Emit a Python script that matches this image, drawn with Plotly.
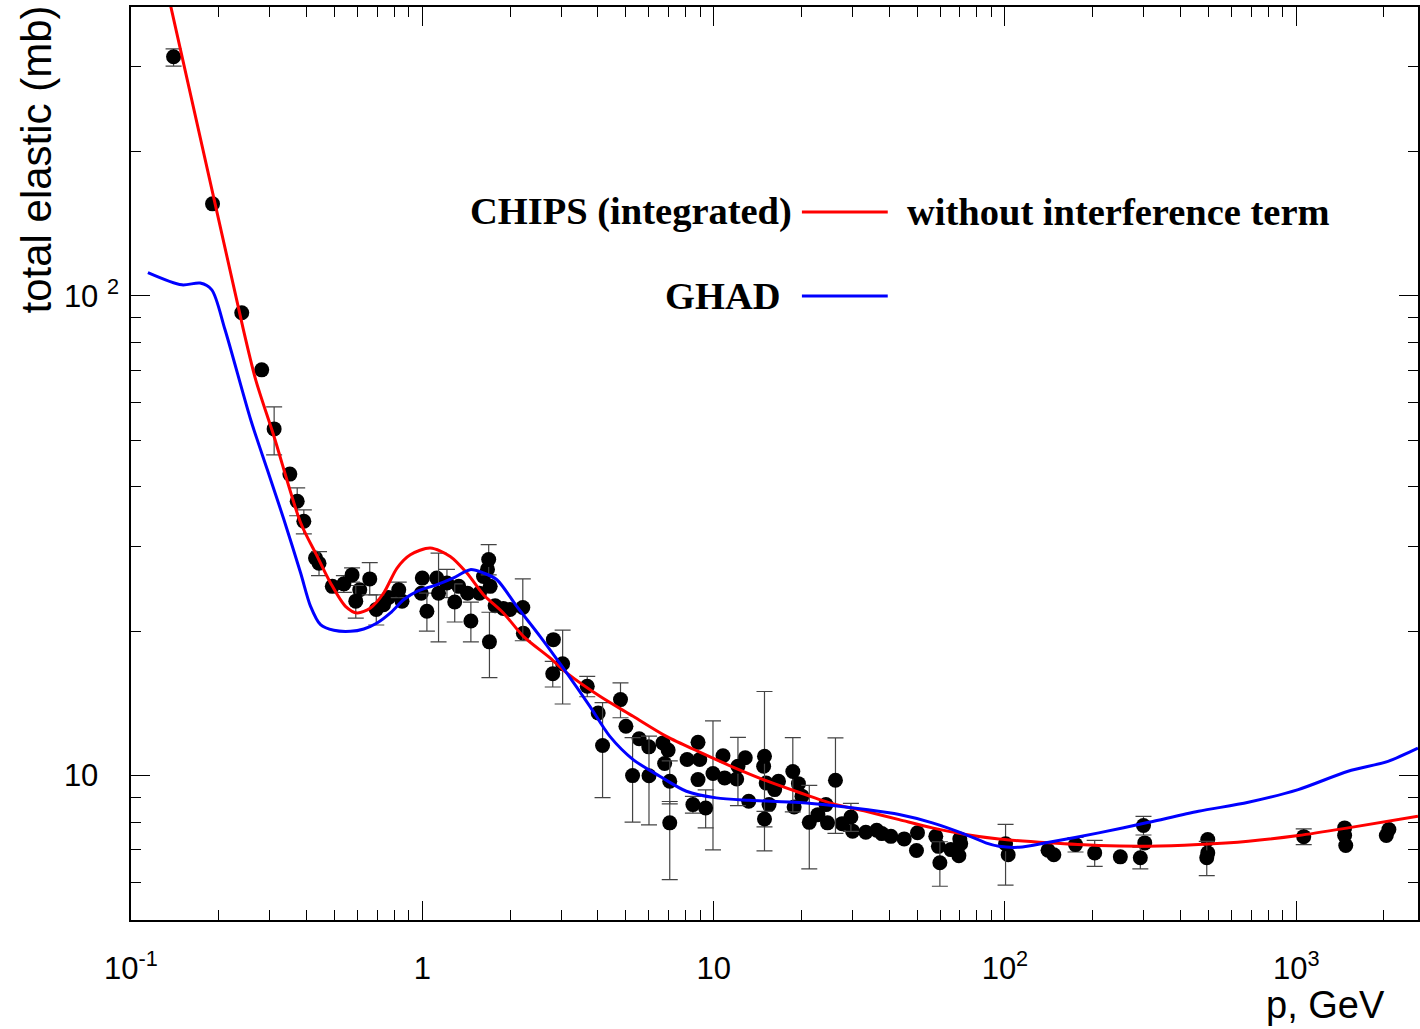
import plotly.graph_objects as go

# ---- experimental data: momentum (GeV), total elastic cross section (mb), errors ----
p_data = [0.140, 0.1905, 0.240, 0.281, 0.310, 0.351, 0.372, 0.392, 0.430, 0.442,
          0.491, 0.538, 0.574, 0.591, 0.610, 0.660, 0.695, 0.736, 0.766, 0.830,
          0.852, 0.992, 1.00, 1.037, 1.121, 1.137, 1.215, 1.292, 1.334, 1.43,
          1.468, 1.571, 1.622, 1.674, 1.69, 1.70, 1.71, 1.778, 1.897, 2.0,
          2.213, 2.223, 2.804, 2.818, 3.032, 3.683, 4.015, 4.157, 4.79, 5.0,
          5.27, 5.55, 5.99, 6.0, 6.70, 6.79, 6.98, 7.07, 7.07, 8.11,
          8.49, 8.84, 8.84, 8.96, 9.39, 9.95, 10.77, 10.91, 12.0, 12.12,
          12.84, 13.2, 14.85, 14.95, 14.95, 15.15, 15.5, 16.2, 16.7, 18.7,
          18.9, 19.55, 20.1, 21.3, 22.8, 24.3, 24.6, 26.2, 27.6, 29.6,
          30.0, 33.3, 36.3, 37.8, 40.6, 45.1, 49.7, 50.1, 57.9, 59.1,
          59.8, 65.2, 69.5, 70.0, 70.5, 100.5, 102.6, 140.6, 147.2, 174.7,
          203.3, 249, 291.6, 299, 302, 493, 497, 497, 1061, 1466,
          1466, 1479, 2038, 2080]
sigma_data = [315, 155.5, 92.2, 70.1, 52.8, 42.5, 37.3, 33.9, 28.4, 27.7,
              24.8, 25.1, 26.2, 23.1, 24.4, 25.7, 22.2, 22.7, 23.5, 24.4,
              23.1, 24.0, 25.8, 22.0, 25.8, 24.0, 25.2, 23.0, 24.8, 24.0,
              21.0, 24.0, 26.0, 26.9, 28.2, 19.0, 24.8, 22.6, 22.3, 22.2,
              22.4, 19.8, 16.3, 19.2, 17.1, 15.35, 13.5, 11.55, 14.4, 12.67,
              10.0, 11.93, 11.48, 9.99, 11.7, 10.6, 11.3, 9.73, 7.97, 10.8,
              8.70, 11.73, 9.81, 10.8, 8.56, 10.1, 11.0, 9.89, 9.84, 10.46,
              10.89, 8.84, 10.46, 10.97, 8.12, 9.65, 8.70, 9.35, 9.73, 10.2,
              8.6, 9.62, 9.06, 7.99, 8.29, 8.70, 7.97, 9.78, 7.94, 8.2,
              7.66, 7.62, 7.69, 7.57, 7.47, 7.38, 6.98, 7.60, 7.47, 7.12,
              6.58, 7.01, 6.81, 7.38, 7.21, 7.21, 6.84, 6.99, 6.84, 7.18,
              6.90, 6.77, 6.74, 7.87, 7.24, 6.74, 7.36, 6.90, 7.46, 7.78,
              7.5, 7.15, 7.5, 7.72]
err_up = [12, 0, 0, 0, 5.9, 0, 2.5, 1.9, 0, 1.6,
          0, 1.0, 0.9, 1.8, 0, 2.1, 1.6, 0, 0, 0.9,
          0, 0, 0, 2.0, 0, 5.1, 1.7, 2.1, 0, 0,
          2.0, 0, 0, 0, 2.1, 2.9, 0, 0, 0, 0,
          3.3, 0, 1.0, 0, 3.0, 0.75, 0, 2.65, 1.2, 0,
          2.0, 0, 0, 2.1, 0, 0, 0, 1.0, 0.86, 0,
          0.35, 0, 0, 0, 0.78, 2.9, 0, 0, 0, 1.55,
          0, 0, 0, 4.0, 0.3, 0, 0, 0, 0, 1.8,
          0, 0, 0, 1.55, 0, 0, 0, 2.2, 0, 0.55,
          0, 0, 0, 0, 0, 0, 0, 0, 0, 0,
          0.7, 0, 0, 0, 0, 0.7, 0, 0, 0, 0.25,
          0.43, 0, 0.35, 0.35, 0, 0.55, 0, 0, 0.28, 0,
          0, 0, 0, 0]
err_down = [14, 0, 0, 0, 6.2, 0, 2.5, 2.0, 0, 1.6,
            0, 1.0, 0.9, 1.8, 0, 1.9, 1.6, 0, 0, 0.9,
            0, 0, 0, 2.0, 0, 5.0, 1.7, 2.1, 0, 0,
            2.0, 0, 0, 0, 2.0, 3.0, 0, 0, 0, 0,
            3.3, 0, 1.0, 0, 3.0, 0.75, 0, 2.55, 1.2, 0,
            2.0, 0, 0, 2.1, 0, 0, 0, 1.0, 1.9, 0,
            0.35, 0, 0, 0, 0.78, 3.1, 0, 0, 0, 1.8,
            0, 0, 0, 4.0, 0.3, 0, 0, 0, 0, 1.8,
            0, 0, 0, 1.6, 0, 0, 0, 2.2, 0, 0.55,
            0, 0, 0, 0, 0, 0, 0, 0, 0, 0,
            0.7, 0, 0, 0, 0, 1.3, 0, 0, 0, 0.25,
            0.43, 0, 0.35, 0.35, 0, 0.55, 0, 0, 0.28, 0,
            0, 0, 0, 0]

# ---- CHIPS (integrated) without interference term ----
chips_p = [0.137, 0.2432, 0.268, 0.3097, 0.3822, 0.4358, 0.4841, 0.5448, 0.5975, 0.6637,
           0.7369, 0.8190, 0.9097, 1.065, 1.247, 1.4225, 1.622, 1.898, 2.223, 2.744,
           3.130, 4.071, 5.292, 6.887, 8.959, 11.65, 15.15, 19.70, 25.62, 33.34,
           43.35, 56.36, 73.34, 95.38, 141.5, 209.9, 311.3, 461.7, 684.8, 1016,
           1507, 2617]
chips_sigma = [400.6, 84.9, 66.8, 50.9, 33.65, 28.63, 25.2, 22.53, 21.83, 22.36,
               24.02, 27.08, 28.86, 29.81, 28.63, 26.44, 23.83, 21.83, 19.51, 17.59,
               16.37, 14.63, 13.29, 12.07, 11.19, 10.42, 9.76, 9.22, 8.743, 8.425,
               8.095, 7.78, 7.536, 7.374, 7.241, 7.148, 7.124, 7.182, 7.297, 7.499,
               7.78, 8.228]

# ---- GHAD ----
ghad_p = [0.1143, 0.1495, 0.1727, 0.1894, 0.2103, 0.2576, 0.2938, 0.335, 0.3822, 0.4135,
          0.4473, 0.4969, 0.5668, 0.6295, 0.6995, 0.777, 0.8628, 0.9589, 1.123, 1.28,
          1.46, 1.622, 1.803, 2.11, 2.536, 3.130, 3.761, 4.404, 5.292, 6.533,
          8.063, 10.21, 13.28, 19.70, 25.62, 33.34, 43.35, 56.36, 73.34, 85.9,
          95.38, 111.7, 141.5, 209.9, 311.3, 461.7, 684.8, 1016, 1507, 2066,
          2617]
ghad_sigma = [111.8, 105.4, 106.3, 102.9, 84.95, 55.16, 43.4, 34.15, 26.44, 22.53,
              20.63, 20.08, 19.98, 20.21, 20.8, 21.83, 23.26, 24.21, 25.0, 25.82,
              26.87, 26.44, 25.6, 22.53, 19.51, 16.37, 13.94, 12.07, 10.8, 9.97,
              9.276, 8.985, 8.883, 8.786, 8.66, 8.496, 8.294, 7.97, 7.536, 7.241,
              7.124, 7.09, 7.261, 7.596, 7.991, 8.425, 8.798, 9.35, 10.21, 10.71,
              11.41]

x_tickvals = [0.1, 1, 10, 100, 1000]
x_ticktext = ["10<sup>-1</sup>", "1", "10", "10<sup>2</sup>", "10<sup>3</sup>"]
y_tickvals = [10, 100]
# invisible superscript on "10" keeps both mantissas aligned as in the reference
y_ticktext = ["10 <sup><span style='color:rgba(0,0,0,0)'>2</span></sup>", "10 <sup>2</sup>"]

legend_red_label = "CHIPS (integrated)"
legend_red_note = "without interference term"
legend_blue_label = "GHAD"

# split points with and without visible error bars
with_err = [i for i in range(len(p_data)) if err_up[i] > 0 or err_down[i] > 0]
no_err = [i for i in range(len(p_data)) if not (err_up[i] > 0 or err_down[i] > 0)]

fig = go.Figure()
fig.add_trace(go.Scatter(
    x=[p_data[i] for i in no_err], y=[sigma_data[i] for i in no_err],
    mode="markers", marker=dict(color="black", size=15, line=dict(width=0)),
    showlegend=False, hoverinfo="x+y"))
fig.add_trace(go.Scatter(
    x=[p_data[i] for i in with_err], y=[sigma_data[i] for i in with_err],
    mode="markers", marker=dict(color="black", size=15, line=dict(width=0)),
    error_y=dict(type="data", symmetric=False,
                 array=[err_up[i] for i in with_err],
                 arrayminus=[err_down[i] for i in with_err],
                 color="#444444", thickness=1.2, width=8),
    showlegend=False, hoverinfo="x+y"))
fig.add_trace(go.Scatter(
    x=chips_p, y=chips_sigma, mode="lines",
    line=dict(color="#ff0000", width=3, shape="spline", smoothing=0.8),
    showlegend=False))
fig.add_trace(go.Scatter(
    x=ghad_p, y=ghad_sigma, mode="lines",
    line=dict(color="#0000ff", width=3, shape="spline", smoothing=0.8),
    showlegend=False))

axis_font = dict(family="Liberation Sans, Arial, sans-serif", size=31, color="black")
legend_font = dict(family="Liberation Serif, Times New Roman, serif", size=38.5, color="black")

fig.update_layout(
    width=1420, height=1029,
    margin=dict(l=131, r=0, t=7, b=109),
    paper_bgcolor="white", plot_bgcolor="white",
    showlegend=False,
    xaxis=dict(type="log", range=[-1, 3.418],
               tickvals=x_tickvals, ticktext=x_ticktext,
               ticks="inside", ticklen=19, tickwidth=1, tickcolor="black",
               minor=dict(ticks="inside", ticklen=10, tickwidth=1, tickcolor="black",
                          dtick="D1", showgrid=False),
               showline=True, linecolor="black", linewidth=1.5, mirror="ticks",
               showgrid=False, zeroline=False,
               tickfont=axis_font, ticklabelstandoff=20),
    yaxis=dict(type="log", range=[0.699, 2.602],
               tickvals=y_tickvals, ticktext=y_ticktext,
               ticks="inside", ticklen=19, tickwidth=1, tickcolor="black",
               minor=dict(ticks="inside", ticklen=10, tickwidth=1, tickcolor="black",
                          dtick="D1", showgrid=False),
               showline=True, linecolor="black", linewidth=1.5, mirror="ticks",
               showgrid=False, zeroline=False,
               tickfont=axis_font, ticklabelstandoff=4),
)

# axis titles (ROOT style: aligned to the axis ends)
fig.add_annotation(text="total elastic (mb)", textangle=-90,
                   xref="paper", yref="paper", x=-0.0737, y=1.004,
                   xanchor="center", yanchor="top", showarrow=False,
                   font=dict(family="Liberation Sans, Arial, sans-serif", size=42, color="black"))
fig.add_annotation(text="p, GeV", xref="paper", yref="paper",
                   x=0.9760, y=-0.0935, xanchor="right", yanchor="middle", showarrow=False,
                   font=dict(family="Liberation Sans, Arial, sans-serif", size=38, color="black"))

# legend drawn as text + line samples
fig.add_annotation(text="<b>" + legend_red_label + "</b>", xref="paper", yref="paper",
                   x=0.5151, y=0.7755, xanchor="right", yanchor="middle",
                   showarrow=False, font=legend_font)
fig.add_annotation(text="<b>" + legend_red_note + "</b>", xref="paper", yref="paper",
                   x=0.6012, y=0.7755, xanchor="left", yanchor="middle",
                   showarrow=False, font=legend_font)
fig.add_annotation(text="<b>" + legend_blue_label + "</b>", xref="paper", yref="paper",
                   x=0.5066, y=0.6835, xanchor="right", yanchor="middle",
                   showarrow=False, font=legend_font)
fig.add_shape(type="line", xref="paper", yref="paper", x0=0.5213, x1=0.5880,
              y0=0.7755, y1=0.7755, line=dict(color="#ff0000", width=3))
fig.add_shape(type="line", xref="paper", yref="paper", x0=0.5213, x1=0.5880,
              y0=0.6835, y1=0.6835, line=dict(color="#0000ff", width=3))

fig.write_html("out.html")
